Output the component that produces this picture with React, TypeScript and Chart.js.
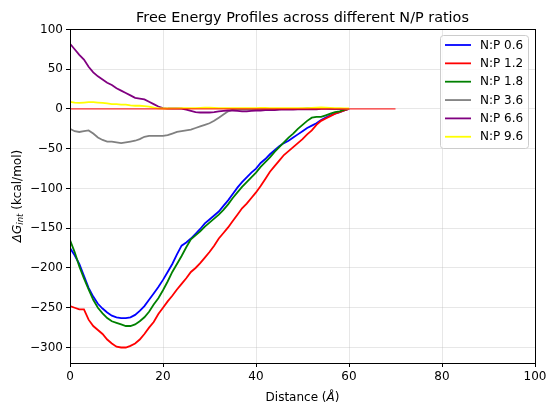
import React, { useEffect, useRef } from "react";
import { Chart, registerables } from "chart.js";

Chart.register(...registerables);

const distance = [
  0, 1, 2, 3, 4, 5, 6, 7, 8, 9, 10, 11, 12, 13, 14, 15, 16, 17, 18, 19, 20,
  21, 22, 23, 24, 25, 26, 27, 28, 29, 30, 31, 32, 33, 34, 35, 36, 37, 38, 39, 40,
  41, 42, 43, 44, 45, 46, 47, 48, 49, 50, 51, 52, 53, 54, 55, 56, 57, 58, 59, 60,
];

const np06 = [
  -175, -184, -195, -210, -225, -236, -245, -251, -256, -260, -262, -263, -263, -262, -259, -254, -248, -240, -232, -224, -215,
  -205, -195, -183, -172, -168, -163, -157, -151, -144, -139, -134, -129, -122, -115, -107, -99, -92, -86, -80, -75,
  -68, -63, -57, -52, -47, -43, -40, -36, -32, -28, -24, -21, -18, -14, -11, -8, -6, -4, -2, 0,
];

const np12 = [
  -248, -250, -252, -252, -265, -273, -278, -283, -290, -295, -299, -300, -300, -298, -295, -290, -283, -275, -268, -258, -250,
  -242, -235, -227, -220, -213, -205, -200, -194, -187, -180, -172, -163, -156, -149, -141, -133, -125, -119, -112, -105,
  -97, -88, -79, -72, -65, -58, -53, -48, -43, -38, -32, -27, -20, -15, -12, -9, -6, -4, -2, 0,
];

const np18 = [
  -165, -180, -198, -213, -227, -240, -250, -257, -263, -267, -269, -271, -273, -273, -271, -267, -262, -255, -246, -238, -228,
  -217, -205, -195, -185, -174, -164, -159, -154, -148, -143, -138, -133, -127, -120, -112, -105, -98, -92, -86, -80,
  -73, -67, -61, -54, -48, -42, -36, -31, -25, -20, -15, -11, -10, -10, -8, -6, -4, -3, -1, 0,
];

const np36 = [
  -25, -28, -29, -28, -27, -31, -36, -39, -41, -41, -42, -43, -42, -41, -40, -38, -35, -34, -34, -34, -34,
  -33, -31, -29, -28, -27, -26, -24, -22, -20, -18, -15, -11, -7, -3, -1, -1, -1, -1, -1, -1,
  -1, -1, -1, -1, -0.5, 0, 0, 0, 0, 0.5, 1, 1, 1, 1, 1, 0.5, 0, 0, 0, 0,
];

const np66 = [
  82, 75, 68, 62, 53, 46, 41, 37, 33, 30, 26, 23, 20, 17, 14, 13, 12, 9, 6, 3, 1,
  0.5, 0.5, 0.5, 0.5, -1, -2.5, -4, -4.5, -4.5, -4.5, -4, -3, -2.5, -2, -2, -2.5, -3, -3, -2.5, -2,
  -2, -1.5, -1.5, -1.5, -1, -1, -1, -1, -0.5, -0.5, -0.5, -0.5, -0.5, 0, 0, 0, 0, 0, 0, 0,
];

const np96 = [
  9, 8, 7.5, 8, 8.5, 8.5, 8, 7.5, 7, 6, 6, 5.5, 5.5, 4.5, 4, 4, 3.5, 3, 1.5, 0.8, 0.5,
  0.5, 0.6, 0.8, 1, 1, 1, 1, 1.2, 1.5, 1.5, 1.2, 1, 1, 1, 1, 1, 1, 1, 1, 1,
  1.2, 1.2, 1, 1, 1, 1, 1, 1, 1, 1, 1, 1.2, 1.5, 1.8, 1.5, 1.2, 1, 1, 0.8, 0.5,
];

const seriesLabels = ["N:P 0.6", "N:P 1.2", "N:P 1.8", "N:P 3.6", "N:P 6.6", "N:P 9.6"];
const seriesValues = [np06, np12, np18, np36, np66, np96];
const seriesColors = ["#0000ff", "#ff0000", "#008000", "#808080", "#800080", "#ffff00"];

const refLineX = [0, 70];
const refLineY = [0, 0];

const xTicks = [0, 20, 40, 60, 80, 100];
const yTicks = [-300, -250, -200, -150, -100, -50, 0, 50, 100];

const titleText = "Free Energy Profiles across different N/P ratios";
const FONT = "'DejaVu Sans', sans-serif";

const overlayPlugin = {
  id: "overlay",
  afterDatasetsDraw(chart: any) {
    const { ctx, chartArea } = chart;
    ctx.save();
    ctx.strokeStyle = "#000";
    ctx.lineWidth = 1;
    ctx.strokeRect(
      Math.round(chartArea.left) + 0.5,
      Math.round(chartArea.top) + 0.5,
      Math.round(chartArea.right - chartArea.left),
      Math.round(chartArea.bottom - chartArea.top)
    );
    ctx.restore();
  },
  afterDraw(chart: any) {
    const { ctx, chartArea } = chart;
    const cx = (chartArea.left + chartArea.right) / 2;
    const cy = (chartArea.top + chartArea.bottom) / 2;
    ctx.save();
    // Title
    ctx.fillStyle = "#000";
    ctx.font = `14.4px ${FONT}`;
    ctx.textAlign = "center";
    ctx.textBaseline = "alphabetic";
    ctx.fillText(titleText, cx, 21.5);

    // X label: Distance (Å)
    ctx.textBaseline = "middle";
    const p1 = "Distance (";
    const p2 = "Å";
    const p3 = ")";
    ctx.font = `12px ${FONT}`;
    const w1 = ctx.measureText(p1).width;
    const w3 = ctx.measureText(p3).width;
    ctx.font = `italic 12px ${FONT}`;
    const w2 = ctx.measureText(p2).width;
    let sx = cx - (w1 + w2 + w3) / 2;
    ctx.textAlign = "left";
    ctx.font = `12px ${FONT}`;
    ctx.fillText(p1, sx, 398);
    sx += w1;
    ctx.font = `italic 12px ${FONT}`;
    ctx.fillText(p2, sx, 398);
    sx += w2;
    ctx.font = `12px ${FONT}`;
    ctx.fillText(p3, sx, 398);

    // Y label: ΔG_int (kcal/mol)
    ctx.save();
    ctx.translate(16, cy);
    ctx.rotate(-Math.PI / 2);
    const a = "ΔG";
    const b = "int";
    const c = " (kcal/mol)";
    ctx.font = `italic 12px ${FONT}`;
    const wa = ctx.measureText(a).width;
    ctx.font = `italic 8.5px ${FONT}`;
    const wb = ctx.measureText(b).width;
    ctx.font = `12px ${FONT}`;
    const wc = ctx.measureText(c).width;
    let ty = -(wa + wb + wc) / 2;
    ctx.textBaseline = "alphabetic";
    ctx.font = `italic 12px ${FONT}`;
    ctx.fillText(a, ty, 4.5);
    ty += wa;
    ctx.font = `italic 8.5px ${FONT}`;
    ctx.fillText(b, ty, 7);
    ty += wb;
    ctx.font = `12px ${FONT}`;
    ctx.fillText(c, ty, 4.5);
    ctx.restore();

    // Legend
    const bx = 440.5;
    const by = 35.5;
    const bw = 88;
    const bh = 113;
    ctx.beginPath();
    (ctx as any).roundRect(bx, by, bw, bh, 3);
    ctx.fillStyle = "rgba(255,255,255,0.8)";
    ctx.fill();
    ctx.strokeStyle = "#cccccc";
    ctx.lineWidth = 1;
    ctx.stroke();
    ctx.font = `12px ${FONT}`;
    ctx.textAlign = "left";
    ctx.textBaseline = "middle";
    for (let i = 0; i < seriesLabels.length; i++) {
      const ry = 45 + i * 18.35;
      ctx.beginPath();
      ctx.strokeStyle = seriesColors[i];
      ctx.lineWidth = 1.8;
      ctx.moveTo(445, ry);
      ctx.lineTo(471, ry);
      ctx.stroke();
      ctx.fillStyle = "#000";
      ctx.fillText(seriesLabels[i], 480, ry + 0.5);
    }
    ctx.restore();
  },
};

export default function App() {
  const canvasRef = useRef<HTMLCanvasElement | null>(null);

  useEffect(() => {
    if (!canvasRef.current) return;
    const n = seriesLabels.length;
    const datasets: any[] = seriesLabels.map((label, i) => ({
      label,
      data: distance.map((d, k) => ({ x: d, y: seriesValues[i][k] })),
      borderColor: seriesColors[i],
      backgroundColor: seriesColors[i],
      borderWidth: 1.8,
      pointRadius: 0,
      fill: false,
      tension: 0,
      order: n + 1 - i,
    }));
    datasets.push({
      label: "ref",
      data: refLineX.map((x, k) => ({ x, y: refLineY[k] })),
      borderColor: "#ff0000",
      borderWidth: 1,
      pointRadius: 0,
      fill: false,
      order: 0,
    });

    const gridColor = "rgba(176,176,176,0.3)";
    const chart = new Chart(canvasRef.current, {
      type: "line",
      data: { datasets },
      options: {
        responsive: false,
        animation: false,
        devicePixelRatio: 1,
        layout: { padding: { left: 0, right: 16, top: 29, bottom: 0 } },
        plugins: {
          legend: { display: false },
          title: { display: false },
          tooltip: { enabled: false },
        },
        scales: {
          x: {
            type: "linear",
            min: 0,
            max: 100,
            afterBuildTicks: (s: any) => {
              s.ticks = xTicks.map((v) => ({ value: v }));
            },
            afterFit: (s: any) => {
              s.height = 49;
            },
            ticks: {
              color: "#000",
              font: { family: FONT, size: 12 },
              padding: 3,
              maxRotation: 0,
              autoSkip: false,
            },
            grid: {
              color: gridColor,
              lineWidth: 1,
              tickColor: "#000",
              tickLength: 4,
              tickWidth: 1,
            },
            border: { display: false },
          },
          y: {
            type: "linear",
            min: -319.5,
            max: 100.5,
            afterBuildTicks: (s: any) => {
              s.ticks = yTicks.map((v) => ({ value: v }));
            },
            afterFit: (s: any) => {
              s.width = 70;
            },
            ticks: {
              color: "#000",
              font: { family: FONT, size: 12 },
              padding: 3,
              autoSkip: false,
              callback: (v: any) => (Number(v) < 0 ? "\u2212" + Math.abs(Number(v)) : String(v)),
            },
            grid: {
              color: gridColor,
              lineWidth: 1,
              tickColor: "#000",
              tickLength: 4,
              tickWidth: 1,
            },
            border: { display: false },
          },
        },
      } as any,
      plugins: [overlayPlugin],
    });
    return () => chart.destroy();
  }, []);

  return (
    <div style={{ position: "fixed", left: 0, top: 0, width: 551, height: 412, background: "#fff" }}>
      <canvas ref={canvasRef} width={551} height={412} style={{ display: "block" }} />
    </div>
  );
}
